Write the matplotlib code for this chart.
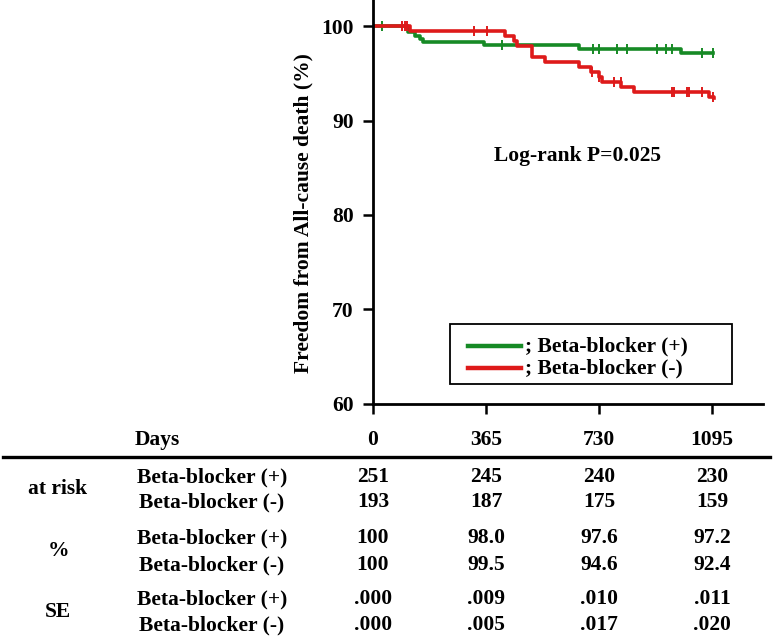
import numpy as np
import matplotlib
matplotlib.use('Agg')
import matplotlib.pyplot as plt
from matplotlib.lines import Line2D
from matplotlib.patches import Rectangle
from matplotlib.transforms import blended_transform_factory

# Kaplan-Meier data
green_t = [0, 114, 136, 152, 163, 357, 665, 994, 1097]
green_s = [100, 99.4, 99.0, 98.7, 98.3, 98.0, 97.55, 97.15, 97.15]
green_cens = [28, 417, 710, 730, 789, 822, 919, 946, 965, 1064, 1097]

red_t = [0, 120, 428, 455, 465, 514, 557, 665, 703, 730, 741, 802, 843, 1086, 1102]
red_s = [100, 99.5, 99.0, 98.4, 97.95, 96.75, 96.2, 95.7, 95.15, 94.6, 94.1, 93.55, 93.0, 92.5, 92.4]
red_cens = [93, 104, 111, 325, 368, 708, 730, 778, 800, 967, 973, 1016, 1021, 1064, 1097]

days = [0, 365, 730, 1095]
groups = ['Beta-blocker (+)', 'Beta-blocker (-)']
at_risk = [['251', '245', '240', '230'], ['193', '187', '175', '159']]
pct = [['100', '98.0', '97.6', '97.2'], ['100', '99.5', '94.6', '92.4']]
se = [['.000', '.009', '.010', '.011'], ['.000', '.005', '.017', '.020']]

green = '#168a25'
red = '#de1a1a'

plt.rcParams['font.family'] = 'Liberation Serif'
plt.rcParams['font.weight'] = 'bold'
fs = 15.5

W, H = 774, 639
fig = plt.figure(figsize=(W / 100, H / 100), dpi=100)
ax = fig.add_axes([373 / W, 1 - 403.5 / H, (763 - 373) / W, 403.5 / H])


def fx(px):
    return px / W


def fy(py):
    return 1 - py / H


def km_plot(t, s, cens, col):
    ax.step(t, s, where='post', color=col, lw=2.6)
    t = np.array(t)
    s = np.array(s)
    idx = np.searchsorted(t, cens, side='right') - 1
    ax.plot(cens, s[idx], ls='none', marker='|', ms=7, mew=1.4, color=col)


km_plot(green_t, green_s, green_cens, green)
km_plot(red_t, red_s, red_cens, red)

ax.set_xlim(0, 1260)
ax.set_ylim(60, 102.8)
ax.set_xticks(days)
ax.set_xticklabels([])
ax.set_yticks([60, 70, 80, 90, 100])
ax.tick_params(axis='both', direction='out', width=1.8, length=7, labelsize=fs, pad=7)
for sp in ['top', 'right']:
    ax.spines[sp].set_visible(False)
for sp in ['left', 'bottom']:
    ax.spines[sp].set_linewidth(2)
ax.set_ylabel('Freedom from All-cause death (%)', fontsize=fs, fontweight='bold')
ax.yaxis.set_label_coords((313 - 373) / 390, (403.5 - 213) / 403.5)

fig.text(fx(578), fy(156), 'Log-rank P=0.025', ha='center', va='center', fontsize=fs)

# legend box
fig.add_artist(Rectangle((fx(450), fy(384)), fx(732) - fx(450), fy(324) - fy(384),
                         fill=False, edgecolor='black', lw=1.3, transform=fig.transFigure))
for col, lab, py in [(green, groups[0], 346), (red, groups[1], 368)]:
    fig.add_artist(Line2D([fx(468), fx(521)], [fy(py), fy(py)], color=col, lw=3.2))
    fig.text(fx(525), fy(py), '; ' + lab, ha='left', va='center', fontsize=fs)

tr = blended_transform_factory(ax.transData, fig.transFigure)

# table header
fig.text(fx(135), fy(440), 'Days', ha='left', va='center', fontsize=fs)
for d in days:
    fig.text(d, fy(440), str(d), ha='center', va='center', fontsize=fs, transform=tr)
fig.add_artist(Line2D([fx(3), fx(770)], [fy(456.5), fy(456.5)], color='black', lw=2.4))

blocks = [('at risk', at_risk, [477, 502]), ('%', pct, [538, 565]), ('SE', se, [599, 625])]
for name, vals, ys in blocks:
    fig.text(fx(58), fy(sum(ys) / 2), name, ha='center', va='center', fontsize=fs)
    for g in range(2):
        fig.text(fx(212), fy(ys[g]), groups[g], ha='center', va='center', fontsize=fs)
        for d, v in zip(days, vals[g]):
            fig.text(d, fy(ys[g]), v, ha='center', va='center', fontsize=fs, transform=tr)

fig.savefig('out.png', dpi=100)
